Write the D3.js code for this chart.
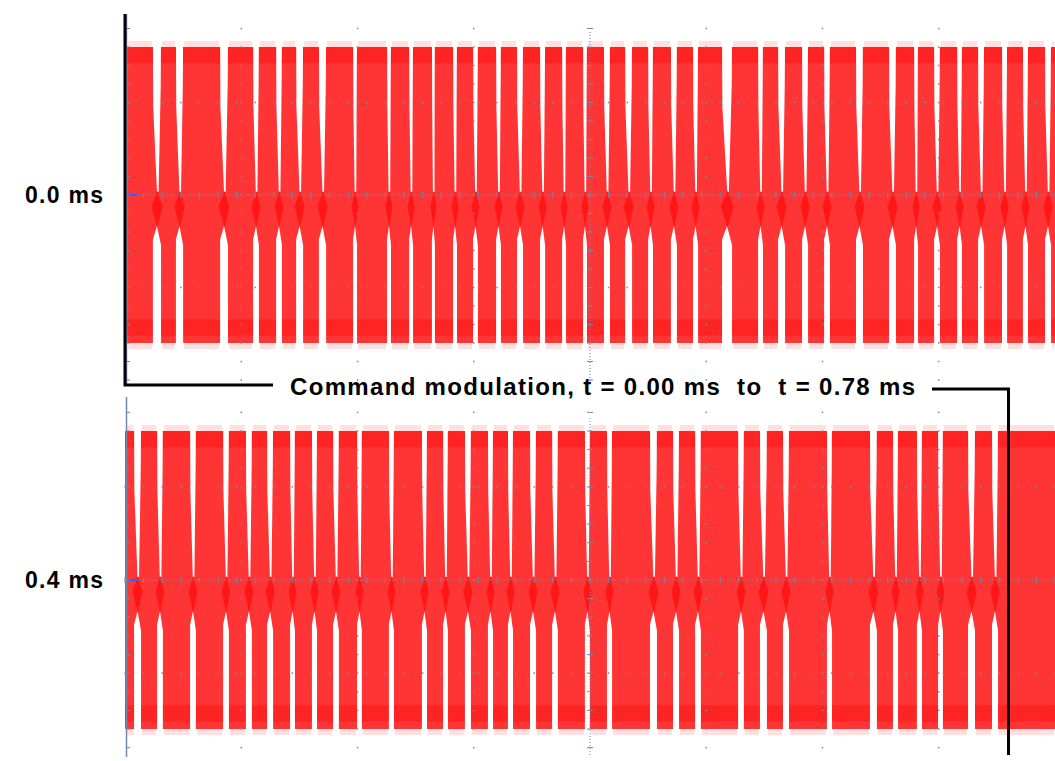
<!DOCTYPE html>
<html lang="en">
<head>
    <meta charset="UTF-8">
    <title>Command modulation</title>
    <style>
        body {
            margin: 0;
            padding: 0;
            background-color: #fff;
        }
        svg {
            display: block;
            font-family: Arial, 'Liberation Sans', sans-serif;
        }
        .label {
            font-weight: bold;
            fill: #000;
        }
    </style>
</head>
<body>
    <svg id="chart"></svg>

    <script src="https://d3js.org/d3.v7.min.js"></script>
    <script>
        // Data (times in microseconds from the start of each sweep)
        const sweepLabels = ['0.0 ms', '0.4 ms'];
        const sweepStart = [0, 400];
        const sweepLength = 400;

        // carrier on: [start, end] of each burst, first sweep
        const bursts0 = [
            [0.9, 12.0], [15.5, 21.9], [25.0, 40.9], [44.3, 55.1], [57.6, 65.0],
            [67.5, 73.6], [76.6, 83.4], [86.5, 98.1], [99.8, 112.7], [114.4, 122.2],
            [123.9, 132.0], [133.3, 141.1], [142.8, 149.7], [151.8, 159.6], [161.7, 168.6],
            [171.2, 178.5], [180.7, 188.0], [189.7, 197.0], [198.7, 206.0], [208.6, 215.1],
            [218.1, 225.0], [227.1, 234.8], [237.4, 244.3], [246.5, 256.8], [261.1, 272.3],
            [274.4, 280.9], [283.9, 291.2], [293.8, 300.7], [303.2, 314.4], [317.4, 328.6],
            [331.6, 339.4], [341.1, 348.0], [350.5, 357.9], [360.0, 366.9], [369.5, 377.2],
            [379.4, 386.2], [388.4, 395.7], [398.3, 400]
        ];

        // second sweep
        const bursts1 = [
            [0, 3.9], [6.9, 13.8], [16.3, 28.0], [30.5, 42.2], [44.7, 52.0],
            [54.6, 61.1], [63.7, 71.0], [73.1, 80.4], [82.6, 89.5], [92.0, 99.8],
            [101.9, 113.5], [115.7, 127.7], [129.9, 136.8], [138.9, 146.2], [148.8, 156.1],
            [158.3, 164.7], [166.9, 174.2], [176.8, 183.7], [186.2, 197.8], [200.0, 207.3],
            [209.5, 225.8], [228.8, 235.7], [238.3, 245.2], [247.7, 263.7], [266.2, 273.1],
            [276.1, 283.0], [285.6, 301.9], [304.1, 320.4], [323.4, 330.3], [332.5, 340.6],
            [342.8, 349.7], [351.8, 362.6], [365.6, 372.9], [375.5, 400]
        ];

        const markerStart = 0;   // us
        const markerEnd = 780;   // us
        const title = 'Command modulation, t = 0.00 ms  to  t = 0.78 ms';

        // Dimensions
        const width = 1055;
        const height = 761;
        const RED = '#ff3535';
        const DARK = '#ff0d0d';
        const GRID = '#7486ab';

        const svg = d3.select('#chart')
            .attr('width', width)
            .attr('height', height);

        const panels = [
            { label: sweepLabels[0], t0: sweepStart[0], bursts: bursts0, cy: 195, amp: 148, top: 14, bottom: 385 },
            { label: sweepLabels[1], t0: sweepStart[1], bursts: bursts1, cy: 580, amp: 149, top: 397, bottom: 757 }
        ];

        panels.forEach((p, pi) => {
            const x = d3.scaleLinear().domain([p.t0, p.t0 + sweepLength]).range([125, 1055]);
            const y = d3.scaleLinear().domain([-1, 1]).range([p.cy + p.amp, p.cy - p.amp]);
            p.x = x;
            p.y = y;
            const g = svg.append('g');

            const bx = d => [x(p.t0 + d[0]), Math.min(x(p.t0 + d[1]), 1055)];
            const first = bx(p.bursts[0]);
            const last = bx(p.bursts[p.bursts.length - 1]);

            // solid carrier envelope
            g.append('rect')
                .attr('x', first[0]).attr('y', y(1))
                .attr('width', last[1] - first[0])
                .attr('height', y(-1) - y(1))
                .attr('fill', RED);

            // darker bands near the peaks
            [[0.89, 1.0], [-0.95, -0.84]].forEach(b => {
                g.append('rect')
                    .attr('x', first[0]).attr('y', y(b[1]))
                    .attr('width', last[1] - first[0])
                    .attr('height', y(b[0]) - y(b[1]))
                    .attr('fill', DARK)
                    .attr('opacity', 0.5);
            });

            // noisy fringe above and below each burst
            g.selectAll('.fringe')
                .data(p.bursts)
                .join('rect')
                .attr('class', 'fringe')
                .attr('x', d => bx(d)[0] + 1)
                .attr('y', y(1) - 6)
                .attr('width', d => Math.max(0, bx(d)[1] - bx(d)[0] - 2))
                .attr('height', y(-1) - y(1) + 12)
                .attr('fill', RED)
                .attr('opacity', 0.16);

            // gaps between bursts
            const gaps = d3.pairs(p.bursts).map(([a, b]) => [x(p.t0 + a[1]), x(p.t0 + b[0])]);

            // upper half: wedge closing toward the centre line
            g.selectAll('.gap-top')
                .data(gaps)
                .join('path')
                .attr('class', 'gap-top')
                .attr('fill', '#fff')
                .attr('d', d => {
                    const c = d[0] + (d[1] - d[0]) * 0.6;
                    return `M${d[0]},${y(1) - 10}H${d[1]}L${d[1] - 0.3},${y(0.75)}L${c + 0.8},${y(0.02)}H${c - 0.8}L${d[0] + 0.3},${y(0.6)}Z`;
                });

            // lower half: slot from below the centre to the bottom
            g.selectAll('.gap-bottom')
                .data(gaps)
                .join('path')
                .attr('class', 'gap-bottom')
                .attr('fill', '#fff')
                .attr('d', d => {
                    const c = d[0] + (d[1] - d[0]) * 0.5;
                    return `M${d[0]},${y(-1) + 10}V${y(-0.3)}L${c},${y(-0.21)}L${d[1]},${y(-0.34)}V${y(-1) + 10}Z`;
                });

            // residual carrier in the gaps, just under the centre line
            g.selectAll('.gap-core')
                .data(gaps)
                .join('path')
                .attr('class', 'gap-core')
                .attr('fill', DARK)
                .attr('opacity', 0.75)
                .attr('d', d => {
                    const c = d[0] + (d[1] - d[0]) * 0.55;
                    return `M${c},${y(0.03)}L${d[1] + 1.5},${y(-0.08)}L${c},${y(-0.22)}L${d[0] - 1.5},${y(-0.08)}Z`;
                });

            // graticule
            const grid = svg.append('g').attr('fill', GRID).attr('stroke', GRID);
            const minorT = d3.range(p.t0, p.t0 + sweepLength + 0.01, 8);
            const minorA = d3.range(-1.25, 1.2501, 0.125).filter(a => y(a) > p.top && y(a) < p.bottom);
            const majorT = x.ticks(10).filter(t => t > p.t0 && t < p.t0 + sweepLength && t !== p.t0 + 200);

            // dotted rows
            [0.625, -0.625].forEach(a => {
                grid.selectAll(null)
                    .data(minorT)
                    .join('rect')
                    .attr('x', t => x(t) - 0.75).attr('y', y(a) - 0.75)
                    .attr('width', 1.5).attr('height', 1.5)
                    .attr('stroke', 'none');
            });

            // dotted columns
            majorT.forEach(t => {
                grid.selectAll(null)
                    .data(minorA)
                    .join('rect')
                    .attr('x', x(t) - 0.75).attr('y', a => y(a) - 0.75)
                    .attr('width', 1.5).attr('height', 1.5)
                    .attr('stroke', 'none');
            });

            // centre vertical line
            const xc = x(p.t0 + 200);
            grid.append('line')
                .attr('x1', xc).attr('x2', xc)
                .attr('y1', pi === 0 ? 32 : 418).attr('y2', p.bottom)
                .attr('stroke-width', 1)
                .attr('stroke-dasharray', '1,2');
            grid.selectAll(null)
                .data(minorA)
                .join('line')
                .attr('x1', xc - 3).attr('x2', xc + 3)
                .attr('y1', a => y(a)).attr('y2', a => y(a))
                .attr('stroke-width', 1);

            // centre horizontal axis
            grid.append('line')
                .attr('x1', 125).attr('x2', 1055)
                .attr('y1', y(0)).attr('y2', y(0))
                .attr('stroke-width', 1)
                .attr('stroke-dasharray', '1,1.5');
            grid.selectAll(null)
                .data(minorT)
                .join('line')
                .attr('x1', t => x(t)).attr('x2', t => x(t))
                .attr('y1', y(0) - 3).attr('y2', y(0) + 3)
                .attr('stroke-width', 1);
            grid.append('line')
                .attr('x1', 126).attr('x2', 137)
                .attr('y1', y(0)).attr('y2', y(0))
                .attr('stroke', '#2a62ff')
                .attr('stroke-width', 2);

            // left axis
            grid.append('line')
                .attr('x1', 126.5).attr('x2', 126.5)
                .attr('y1', p.top).attr('y2', p.bottom)
                .attr('stroke-width', 1.5);
            grid.selectAll(null)
                .data(minorA)
                .join('line')
                .attr('x1', 126).attr('x2', 130)
                .attr('y1', a => y(a)).attr('y2', a => y(a))
                .attr('stroke-width', 1);

            // sweep start label
            svg.append('text')
                .attr('class', 'label')
                .attr('x', 25)
                .attr('y', y(0) + 8)
                .attr('font-size', 23)
                .attr('textLength', 78)
                .attr('lengthAdjust', 'spacing')
                .text(p.label);
        });

        // bracket marking the command window
        const xa = panels[0].x;
        const xb = panels[1].x;
        svg.append('path')
            .attr('d', `M${xa(markerStart)},14V385H273`)
            .attr('fill', 'none')
            .attr('stroke', '#000')
            .attr('stroke-width', 3);

        svg.append('path')
            .attr('d', `M932,389H${xb(markerEnd)}V755`)
            .attr('fill', 'none')
            .attr('stroke', '#000')
            .attr('stroke-width', 3);

        svg.append('text')
            .attr('class', 'label')
            .attr('x', 290)
            .attr('y', 395)
            .attr('font-size', 24)
            .attr('textLength', 625)
            .attr('lengthAdjust', 'spacing')
            .style('white-space', 'pre')
            .text(title);
    </script>
</body>
</html>
